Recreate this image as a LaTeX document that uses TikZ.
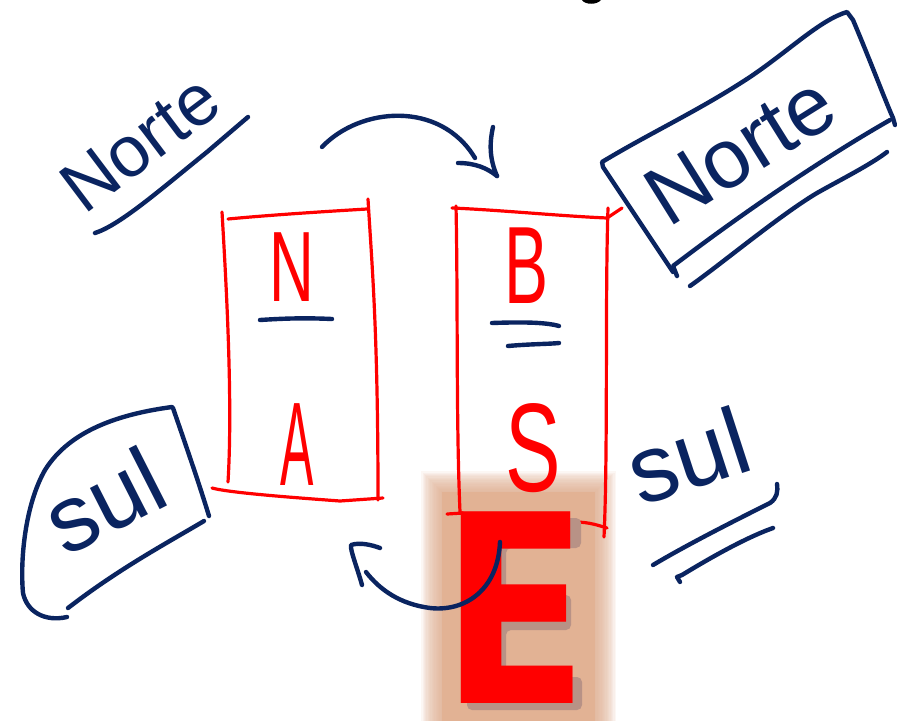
\documentclass[tikz,border=0pt]{standalone}
\usepackage{fontspec}
\setmainfont{Liberation Sans}
\newfontfamily\efont{DejaVu Sans}
\definecolor{navy}{RGB}{10,36,96}
\definecolor{tanbg}{RGB}{226,178,148}
\definecolor{eshadow}{RGB}{184,146,134}
\begin{document}
\begin{tikzpicture}[x=1pt,y=-1pt,
  ink/.style={draw=navy,line width=4.4pt,line cap=round,line join=round},
  redink/.style={draw=red,line width=3.2pt,line cap=round,line join=round},
  hw/.style={text=navy,inner sep=0pt,font=\fontsize{#1}{#1}\selectfont},
  redtxt/.style={text=red,inner sep=0pt,font=\fontsize{#1}{#1}\selectfont},
  bigE/.style={anchor=base west,inner sep=0pt,xscale=0.82,font=\efont\bfseries\fontsize{263}{263}\selectfont}
]
\useasboundingbox (0,0) rectangle (897,721);
\fill[white] (0,0) rectangle (897,721);

% cut-off mark at the top edge
\fill[black] (582,0) .. controls (585,5) and (597,5) .. (601,0) -- cycle;

% ---- tan blurred background behind E ----
\foreach \k in {1,...,16}{
  \fill[tanbg,opacity=0.1] ({442-1.3*\k},{492-1.3*\k}) rectangle ({595+1.3*\k},721);
}
\fill[tanbg] (442,492) rectangle (595,721);

% ---- left red box ----
\draw[redink] (228,219) .. controls (260,216) and (300,213) .. (367,209);
\draw[redink] (222,212) .. controls (226,280) and (233,400) .. (228,482);
\draw[redink] (368,199) .. controls (372,267) and (378,330) .. (378,500);
\draw[redink] (212,488) .. controls (230,493) and (300,498) .. (340,501) -- (383,498);
\node[redtxt=100,xscale=0.62] (N) at (292,267) {N};
\draw[ink] (260,320) .. controls (290,318) and (310,318) .. (332,319);
\node[redtxt=119,xscale=0.42] (A) at (297,445) {A};

% ---- right red box ----
\draw[redink] (452,208) .. controls (500,210) and (560,216) .. (607,218) -- (622,208);
\draw[redink] (456,206) .. controls (458,300) and (456,420) .. (460,512);
\draw[redink] (608,208) .. controls (605,300) and (608,450) .. (604,537);
\draw[redink] (447,514) -- (463,513);
\draw[redink] (575,522) .. controls (590,522) and (600,526) .. (607,528);
\node[redtxt=110,xscale=0.6] (B) at (527,266) {B};
\draw[ink] (492,323) .. controls (520,322) and (545,322) .. (559,326);
\draw[ink] (508,346) .. controls (530,344) and (550,344) .. (559,343);
\node[redtxt=126,xscale=0.66] (S) at (533,448) {S};

% ---- big E with its drop shadow ----
\fill[eshadow,rounded corners=5pt]
  (467,518) -- (581,518) -- (581,548) -- (506,548) -- (506,595) -- (571,595)
  -- (571,630) -- (506,630) -- (506,677) -- (582,677) -- (582,710) -- (467,710) -- cycle;
\node[bigE,text=red] (E) at (441,703) {E};

% ---- top arrow ----
\draw[ink] (322,147) .. controls (360,107) and (440,100) .. (475,158);
\draw[ink] (493,127) .. controls (489,145) and (490,160) .. (497,176);
\draw[ink] (458,163) .. controls (475,163) and (487,168) .. (497,176);

% ---- bottom arrow ----
\draw[ink] (500,542) .. controls (498,590) and (465,612) .. (430,608)
           .. controls (400,604) and (380,590) .. (366,572);
\draw[ink] (362,585) .. controls (357,567) and (350,550) .. (351,545)
           .. controls (360,542) and (372,545) .. (380,548);

% ---- top-left "Norte" ----
\node[hw=72,rotate=37] (norteL) at (140,143) {Norte};
\draw[ink] (95,233) .. controls (120,225) and (160,190) .. (207,152) -- (248,117);

% ---- top-right boxed "Norte" ----
\draw[ink] (673,272) -- (603,167) -- (602,162)
   .. controls (650,133) and (700,110) .. (750,77)
   .. controls (790,50) and (820,20) .. (847,12) -- (853,20)
   .. controls (870,60) and (885,100) .. (893,118) -- (895,125);
\draw[ink] (890,120) .. controls (820,160) and (740,215) .. (673,266) -- (677,276);
\draw[ink] (690,286) .. controls (720,265) and (780,215) .. (817,193)
   .. controls (840,180) and (870,165) .. (887,152);
\node[hw=84,rotate=32] (norteR) at (740,150) {Norte};

% ---- bottom-left boxed "sul" ----
\draw[ink] (172,407) .. controls (120,414) and (70,430) .. (45,470)
   .. controls (25,505) and (20,560) .. (23,593)
   .. controls (27,612) and (45,622) .. (67,617);
\draw[ink] (173,408) .. controls (185,443) and (198,480) .. (209,516);
\draw[ink] (204,521) .. controls (167,543) and (120,568) .. (68,608);
\node[hw=94,rotate=27] (sulL) at (104,500) {sul};

% ---- right "sul" ----
\node[hw=95,rotate=18] (sulR) at (688,455) {sul};
\draw[ink] (653,565) .. controls (690,543) and (740,518) .. (770,503)
   .. controls (777,498) and (778,492) .. (777,484);
\draw[ink] (680,582) -- (677,577) -- (682,575)
   .. controls (710,558) and (745,538) .. (773,528);
\end{tikzpicture}
\end{document}
